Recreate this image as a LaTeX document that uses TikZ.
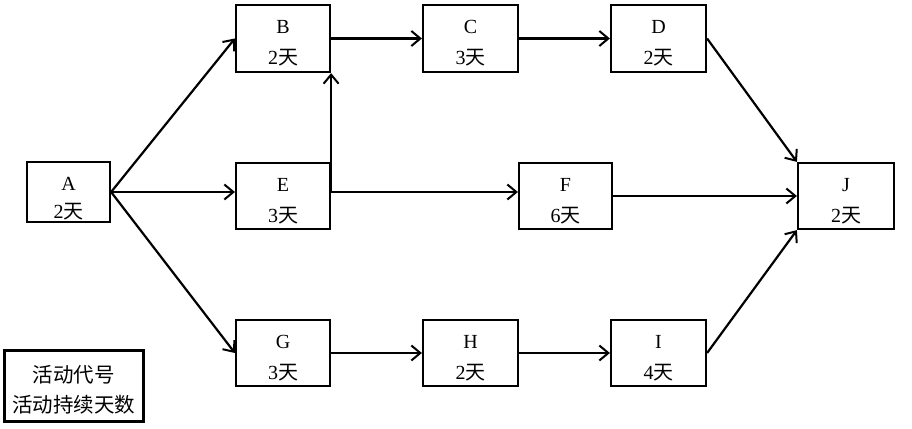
\documentclass[tikz,border=0pt]{standalone}
\usepackage{fontspec}
\setmainfont{Liberation Serif}
\newfontfamily\cjk{Noto Sans CJK SC}
\usetikzlibrary{arrows.meta}
\begin{document}
\begin{tikzpicture}[x=1pt,y=-1pt,
  box/.style={draw,line width=2.2pt,minimum width=94pt,minimum height=67pt,inner sep=0pt},
  txt/.style={inner sep=0pt,align=center,font=\fontsize{20}{31}\selectfont},
  conn/.style={line width=2.2pt,-{Straight Barb[length=9pt,width=15pt,line width=2pt]}}]
\useasboundingbox (0,0) rectangle (912,428);
\node[box,minimum width=83pt,minimum height=60pt] (A) at (68.5,192) {};
\node[box] (B) at (283,38.5) {};
\node[box,minimum width=95pt] (C) at (470.5,38.5) {};
\node[box,minimum width=95pt] (D) at (658.5,38.5) {};
\node[box,minimum height=66pt] (E) at (283,196) {};
\node[box,minimum width=93pt,minimum height=66pt] (F) at (565.5,196) {};
\node[box,minimum width=96pt,minimum height=66pt] (J) at (846,196) {};
\node[box,minimum height=66pt] (G) at (283,353) {};
\node[box,minimum width=95pt,minimum height=66pt] (H) at (470.5,353) {};
\node[box,minimum width=95pt,minimum height=66pt] (I) at (658.5,353) {};
\node[box,minimum width=139pt,minimum height=71pt] (L) at (74,386) {};
\node[txt,font=\fontsize{20}{28}\selectfont] (At) at ([yshift=-7pt]A.center) {A\\2{\cjk 天}};
\node[txt] (Bt) at ([yshift=-5pt]B.center) {B\\2{\cjk 天}};
\node[txt] (Ct) at ([yshift=-5pt]C.center) {C\\3{\cjk 天}};
\node[txt] (Dt) at ([yshift=-5pt]D.center) {D\\2{\cjk 天}};
\node[txt] (Et) at ([yshift=-5pt]E.center) {E\\3{\cjk 天}};
\node[txt] (Ft) at ([yshift=-5pt]F.center) {F\\6{\cjk 天}};
\node[txt] (Jt) at ([yshift=-5pt]J.center) {J\\2{\cjk 天}};
\node[txt] (Gt) at ([yshift=-5pt]G.center) {G\\3{\cjk 天}};
\node[txt] (Ht) at ([yshift=-5pt]H.center) {H\\2{\cjk 天}};
\node[txt] (It) at ([yshift=-5pt]I.center) {I\\4{\cjk 天}};
\node[txt,font=\cjk\fontsize{20.5}{30}\selectfont] (Lt) at ([yshift=-4pt]L.center) {活动代号\\活动持续天数};
\coordinate (Eo) at (A.east -| E.east);
\draw[conn] (A.east) -- (B.west);
\draw[conn] (A.east) -- (A.east -| E.west);
\draw[conn] (A.east) -- (G.west);
\draw[conn] (B.east) -- (C.west);
\draw[conn] (C.east) -- (D.west);
\draw[conn] (Eo) -- (B.south east);
\draw[conn] (Eo) -- (Eo -| F.west);
\draw[conn] (G.east) -- (H.west);
\draw[conn] (H.east) -- (I.west);
\draw[conn] (D.east) -- (J.north west);
\draw[conn] (F.east) -- (J.west);
\draw[conn] (I.east) -- (J.south west);
\end{tikzpicture}
\end{document}
